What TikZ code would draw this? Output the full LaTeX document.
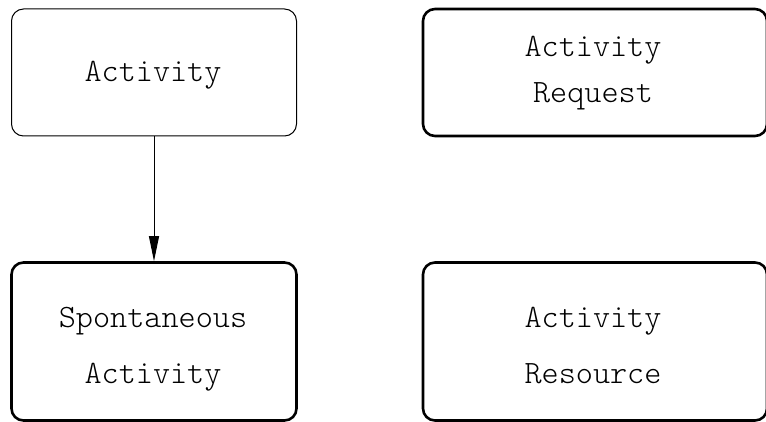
\documentclass[tikz,border=0pt]{standalone}
\usepackage{fontspec}
\setmonofont{lmmonolt10-regular.otf}
\usetikzlibrary{arrows.meta}
\begin{document}
\begin{tikzpicture}[x=1pt,y=1pt,
  thinbox/.style={draw, line width=1pt, rounded corners=12pt, inner sep=0pt},
  thickbox/.style={draw, line width=2.6pt, rounded corners=12pt, inner sep=0pt},
  lbl/.style={font=\ttfamily\fontsize{32.6}{34}\selectfont, anchor=base, inner sep=0pt}]
\useasboundingbox (0,0) rectangle (766,421);

% boxes
\node[thinbox, minimum width=285pt, minimum height=127pt] (act) at (154,348.5) {};
\node[thickbox, minimum width=344pt, minimum height=127pt] (req) at (595,348.5) {};
\node[thickbox, minimum width=285pt, minimum height=158pt] (spont) at (154,79.5) {};
\node[thickbox, minimum width=344pt, minimum height=158pt] (res) at (595,79.5) {};

% labels
\node[lbl] (tact) at (153,339) {Activity};
\node[lbl] (treq1) at (593,364) {Activity};
\node[lbl] (treq2) at (593,318) {Request};
\node[lbl] (tsp1) at (153,94) {Spontaneous};
\node[lbl] (tsp2) at (153,38) {Activity};
\node[lbl] (tres1) at (593,94) {Activity};
\node[lbl] (tres2) at (593,38) {Resource};

% generalisation arrow
\draw[line width=1pt, -{Triangle[length=25pt,width=10pt]}] (act.south) -- (spont.north);
\end{tikzpicture}
\end{document}
